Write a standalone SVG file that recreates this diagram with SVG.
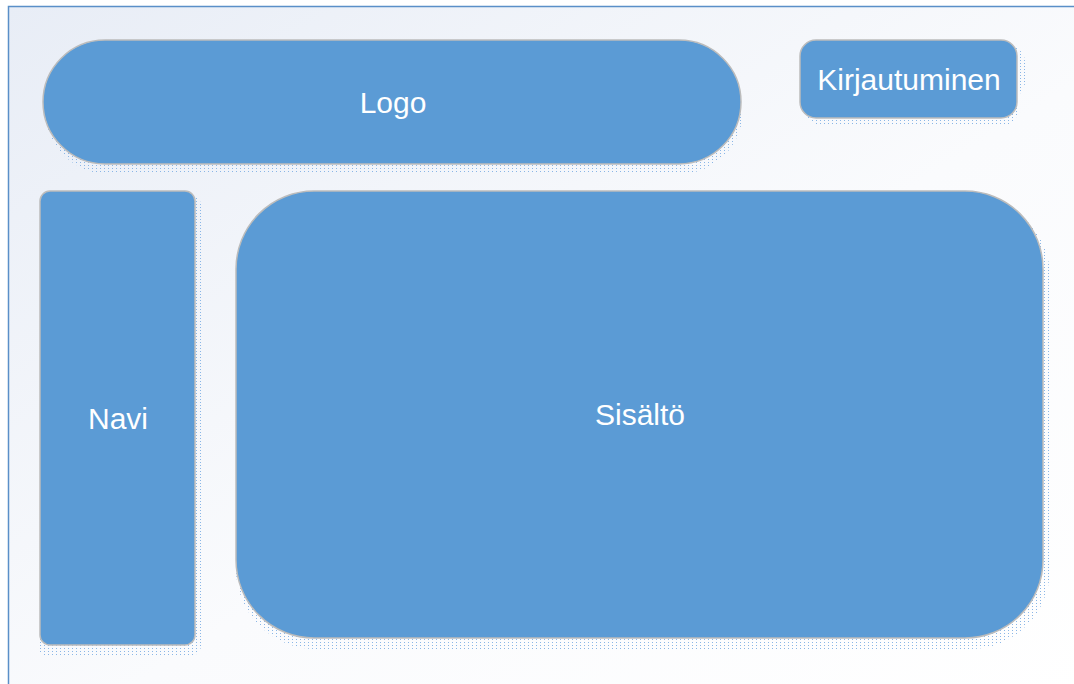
<svg xmlns="http://www.w3.org/2000/svg" width="1074" height="684" viewBox="0 0 1074 684">
<defs>
<linearGradient id="bg" x1="0" y1="0" x2="1" y2="1">
<stop offset="0" stop-color="#e8edf6"/>
<stop offset="0.55" stop-color="#fafbfd"/>
<stop offset="1" stop-color="#ffffff"/>
</linearGradient>
<pattern id="dots" width="4" height="3" patternUnits="userSpaceOnUse">
<rect x="0" y="0" width="1" height="1" fill="#8ab6e6"/>
</pattern>
<style>
.box{fill:#5b9bd5;stroke:#bcbcbc;stroke-width:1.5}
.sh{fill:url(#dots)}
.lbl{font-family:"Liberation Sans",Arial,sans-serif;font-size:30px;fill:#ffffff;text-anchor:middle;dominant-baseline:central}
</style>
</defs>
<rect x="0" y="0" width="1074" height="684" fill="#ffffff"/>
<rect x="8.5" y="6.5" width="1080" height="690" fill="url(#bg)" stroke="#5a8fc8" stroke-width="1.5"/>
<g id="logo">
<rect class="sh" x="45" y="46" width="698" height="128" rx="64"/>
<rect class="box" x="43" y="40" width="698" height="124" rx="62"/>
<text class="lbl" x="393" y="102">Logo</text>
</g>
<g id="kirjautuminen">
<rect class="sh" x="797" y="46" width="228" height="52" rx="16"/>
<rect class="sh" x="806" y="84" width="212" height="42" rx="16"/>
<rect class="box" x="800" y="40" width="217" height="78" rx="16"/>
<text class="lbl" x="909" y="79">Kirjautuminen</text>
</g>
<g id="navi">
<rect class="sh" x="37" y="195" width="164" height="461" rx="10"/>
<rect class="box" x="40" y="191" width="155" height="454" rx="10"/>
<text class="lbl" x="118" y="418">Navi</text>
</g>
<g id="sisalto">
<rect class="sh" x="236" y="197" width="814" height="452" rx="80"/>
<rect class="box" x="236" y="191" width="807" height="447" rx="78"/>
<text class="lbl" x="640" y="414">Sisältö</text>
</g>
<g id="connectors"></g>
</svg>
